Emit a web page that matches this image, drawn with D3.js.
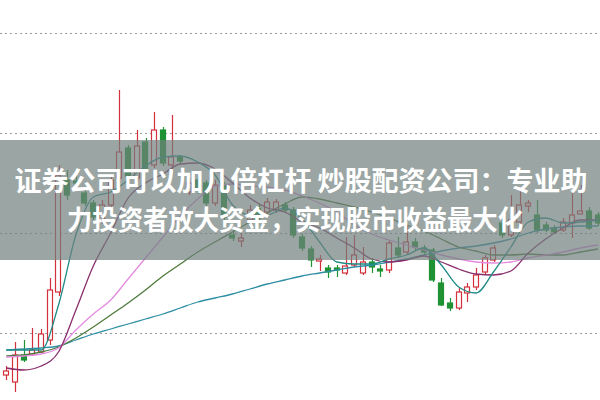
<!DOCTYPE html>
<html><head><meta charset="utf-8">
<script src="https://cdn.jsdelivr.net/npm/d3@7"></script>
<style>html,body{margin:0;padding:0;background:#fff;}svg{display:block;}</style>
</head><body>
<svg id="c" width="600" height="400"></svg>
<script>
// ---- data ----
const opens  = [7.16,7.02,7.56,7.58,7.62,7.86,8.82,11.06,11.04,10.80,10.60,10.26,10.56,11.10,11.70,11.10,11.82,11.36,12.06,11.36,11.52,10.82,11.06,11.00,10.60,10.96,9.96,9.84,10.26,10.50,10.42,10.46,10.56,10.46,9.92,9.68,9.44,9.30,9.30,9.20,9.36,9.20,9.42,9.28,9.26,9.70,9.62,9.82,9.70,9.66,9.00,8.60,8.50,8.80,8.92,9.22,9.46,10.20,9.96,10.22,10.54,10.36,10.16,10.10,10.06,10.20,10.38,10.44,10.36];
const closes = [7.24,7.56,7.46,7.66,7.98,8.86,11.16,10.76,11.00,10.60,10.32,10.56,11.06,11.62,11.14,11.74,11.28,12.06,11.40,11.52,11.44,11.00,10.86,10.60,10.96,10.32,9.90,9.90,10.46,10.30,10.62,10.62,10.46,9.96,9.70,9.46,9.48,9.22,9.26,9.34,9.56,9.42,9.32,9.24,9.80,9.56,9.82,9.72,9.62,9.06,8.56,8.50,8.82,8.92,9.16,9.50,9.70,9.96,10.26,10.56,10.60,10.06,10.06,10.02,10.22,10.36,10.44,10.10,10.20];
const highs  = [7.34,7.82,7.86,8.10,8.08,9.10,11.36,11.26,11.14,10.90,10.66,10.66,11.16,12.86,11.76,12.06,11.90,12.42,12.12,12.36,11.56,11.10,11.14,11.06,11.06,11.02,10.06,10.00,10.56,10.58,10.70,10.68,10.62,10.52,9.98,9.74,9.56,9.36,9.36,9.92,9.96,9.72,9.50,9.36,9.86,9.92,10.16,9.90,9.76,9.70,9.10,8.70,8.90,9.00,9.30,9.56,9.76,10.30,10.76,10.86,10.66,10.66,10.22,10.16,10.30,10.86,10.96,10.52,10.42];
const lows   = [7.06,6.82,7.42,7.54,7.60,7.76,8.74,10.66,10.90,10.54,10.26,10.18,10.50,11.02,11.06,11.02,11.22,11.30,11.34,11.26,11.38,10.76,10.78,10.54,10.54,10.26,9.84,9.72,10.20,10.22,10.36,10.40,10.40,9.90,9.64,9.32,9.24,9.10,9.12,9.16,9.32,9.16,9.20,9.12,9.20,9.50,9.56,9.66,9.58,9.02,8.54,8.44,8.46,8.62,8.86,9.18,9.42,9.90,9.92,10.12,10.42,10.00,10.02,9.98,10.02,9.90,10.38,10.06,10.14];
const days = d3.range(opens.length);
// moving-average lines, sampled every second day
const maDays = [0,2,4,6,8,10,12,14,16,18,20,22,24,26,28,30,32,34,36,38,40,42,44,46,48,50,52,54,56,58,60,62,64,66,68];
const ma5  = [7.66,7.66,7.66,8.56,9.96,10.72,10.82,11.06,11.34,11.52,11.54,11.42,11.16,10.56,10.36,10.36,10.50,10.28,9.82,9.42,9.38,9.38,9.48,9.56,9.70,9.36,8.92,8.80,9.22,9.72,10.22,10.30,10.20,10.22,10.26];
const ma10 = [7.30,7.26,7.34,7.62,8.46,9.34,10.00,10.70,11.00,11.18,11.38,11.40,11.28,11.00,10.70,10.50,10.42,10.22,10.10,9.90,9.70,9.48,9.42,9.46,9.54,9.42,9.28,9.18,9.16,9.24,9.60,9.88,10.10,10.26,10.26];
const ma20 = [7.52,7.54,7.58,7.70,8.06,8.38,8.66,9.08,9.50,9.92,10.34,10.68,10.94,10.98,10.94,10.92,10.86,10.74,10.60,10.42,10.16,9.98,9.86,9.76,9.66,9.56,9.48,9.42,9.40,9.42,9.50,9.56,9.62,9.70,9.76];
const ma30 = [7.54,7.56,7.62,7.72,7.90,8.12,8.36,8.60,8.86,9.14,9.38,9.62,9.82,10.02,10.22,10.40,10.58,10.72,10.68,10.60,10.52,10.42,10.30,10.16,10.04,9.88,9.72,9.64,9.56,9.56,9.58,9.56,9.56,9.62,9.68];
const ma60 = [7.66,7.68,7.70,7.74,7.86,7.98,8.08,8.18,8.28,8.38,8.50,8.62,8.70,8.78,8.88,8.98,9.06,9.14,9.20,9.26,9.32,9.36,9.42,9.48,9.56,9.64,9.70,9.74,9.80,9.88,10.00,10.08,10.12,10.14,10.14];
const gridPrices = [8,10,12,14];
const titleLines = ["证券公司可以加几倍杠杆 炒股配资公司：专业助","力投资者放大资金，实现股市收益最大化"];

// ---- drawing ----
const W = 600, H = 400;
const svg = d3.select("#c");
const x = d3.scalePoint().domain(days).range([6.3, 597.9]);
const y = d3.scaleLinear().domain([6.66, 14.66]).range([H, 0]);
const bw = x.step() * 0.72;
const UP = "#d3303c", DOWN = "#1f9334";

// dotted gridlines
const grid = svg.append("g").call(d3.axisRight(y).tickValues(gridPrices).tickSize(W).tickFormat(""));
grid.select(".domain").remove();
grid.selectAll("line").attr("stroke", "#9a9a9a").attr("stroke-width", 1.2).attr("stroke-dasharray", "2,3");

// candles
const cg = svg.append("g");
const c = cg.selectAll("g").data(days).join("g");
c.append("line")
  .attr("x1", i => Math.round(x(i)) + 0.5).attr("x2", i => Math.round(x(i)) + 0.5)
  .attr("y1", i => y(highs[i])).attr("y2", i => y(lows[i]))
  .attr("stroke", i => closes[i] >= opens[i] ? UP : DOWN).attr("stroke-width", 1.2);
c.append("rect")
  .attr("x", i => Math.round(x(i) - bw / 2) + 0.5)
  .attr("width", Math.round(bw) - 1)
  .attr("y", i => y(Math.max(opens[i], closes[i])))
  .attr("height", i => Math.max(1.5, Math.abs(y(opens[i]) - y(closes[i]))))
  .attr("fill", i => closes[i] >= opens[i] ? "#ffffff" : DOWN)
  .attr("stroke", i => closes[i] >= opens[i] ? UP : DOWN)
  .attr("stroke-width", 1.2);

// moving averages
const maSeries = [
  {v: ma60, col: "#2e8ea3"},
  {v: ma30, col: "#4d7a3c"},
  {v: ma20, col: "#e48be0"},
  {v: ma10, col: "#8a2f6c"},
  {v: ma5,  col: "#1f8a86"}
];
const line = d3.line().x((d, k) => x(maDays[k])).curve(d3.curveMonotoneX);
svg.append("g").selectAll("path").data(maSeries).join("path")
  .attr("d", s => line.y(d => y(d))(s.v))
  .attr("fill", "none").attr("stroke", s => s.col).attr("stroke-width", 1.3);

// banner
svg.append("rect").attr("x", 0).attr("y", 140).attr("width", W).attr("height", 120)
  .attr("fill", "rgb(112,128,125)").attr("fill-opacity", 0.7);
const tx = svg.append("g").attr("font-family", "'Noto Sans CJK SC', 'Noto Sans', sans-serif")
  .attr("font-weight", "bold").attr("font-size", 27).attr("fill", "#ffffff").attr("text-anchor", "middle");
tx.selectAll("text").data(titleLines).join("text")
  .attr("x", (d, k) => k === 0 ? 301 : 295)
  .attr("y", (d, k) => k === 0 ? 191 : 230)
  .attr("textLength", (d, k) => k === 0 ? 573 : 456)
  .attr("lengthAdjust", "spacingAndGlyphs")
  .text(d => d);
</script>
</body></html>
